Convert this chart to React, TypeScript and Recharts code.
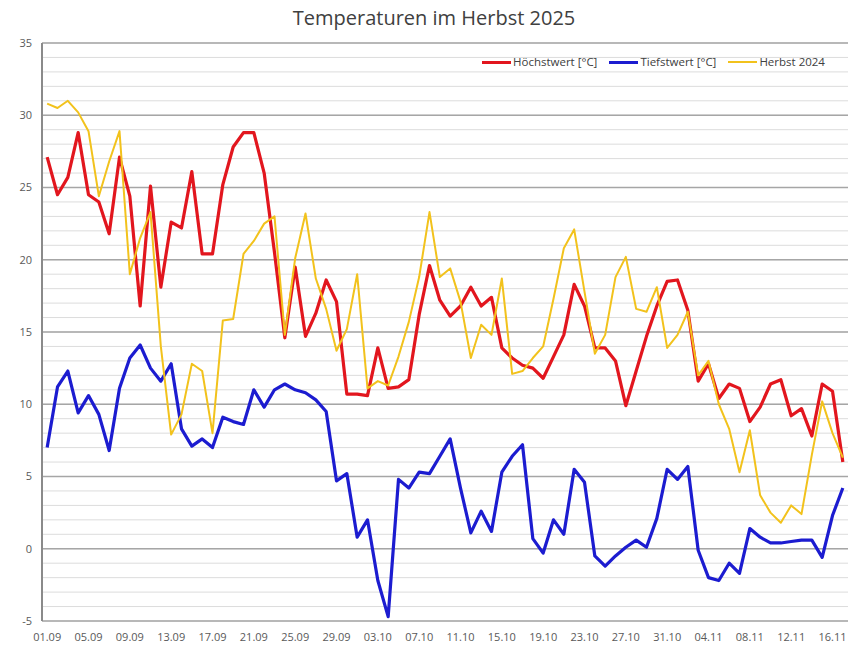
import React from 'react';
import { LineChart, Line, XAxis, YAxis, CartesianGrid, ReferenceLine } from 'recharts';

const days = [
  '01.09', '02.09', '03.09', '04.09', '05.09', '06.09', '07.09', '08.09', '09.09', '10.09',
  '11.09', '12.09', '13.09', '14.09', '15.09', '16.09', '17.09', '18.09', '19.09', '20.09',
  '21.09', '22.09', '23.09', '24.09', '25.09', '26.09', '27.09', '28.09', '29.09', '30.09',
  '01.10', '02.10', '03.10', '04.10', '05.10', '06.10', '07.10', '08.10', '09.10', '10.10',
  '11.10', '12.10', '13.10', '14.10', '15.10', '16.10', '17.10', '18.10', '19.10', '20.10',
  '21.10', '22.10', '23.10', '24.10', '25.10', '26.10', '27.10', '28.10', '29.10', '30.10',
  '31.10', '01.11', '02.11', '03.11', '04.11', '05.11', '06.11', '07.11', '08.11', '09.11',
  '10.11', '11.11', '12.11', '13.11', '14.11', '15.11', '16.11', '17.11',
];

const tickLabels = [
  '01.09', '05.09', '09.09', '13.09', '17.09', '21.09', '25.09', '29.09', '03.10', '07.10',
  '11.10', '15.10', '19.10', '23.10', '27.10', '31.10', '04.11', '08.11', '12.11', '16.11',
];

const hoechstwert = [
  27.1, 24.5, 25.7, 28.8, 24.5, 24.0, 21.8, 27.1, 24.4, 16.8,
  25.1, 18.1, 22.6, 22.2, 26.1, 20.4, 20.4, 25.2, 27.8, 28.8,
  28.8, 26.0, 20.5, 14.6, 19.5, 14.7, 16.3, 18.6, 17.1, 10.7,
  10.7, 10.6, 13.9, 11.1, 11.2, 11.7, 16.2, 19.6, 17.2, 16.1,
  16.8, 18.1, 16.8, 17.4, 13.9, 13.2, 12.7, 12.5, 11.8, 13.3,
  14.8, 18.3, 16.8, 13.9, 13.9, 13.0, 9.9, 12.3, 14.7, 16.8,
  18.5, 18.6, 16.5, 11.6, 12.8, 10.4, 11.4, 11.1, 8.8, 9.8,
  11.4, 11.7, 9.2, 9.7, 7.8, 11.4, 10.9, 6.0,
];

const tiefstwert = [
  7.0, 11.2, 12.3, 9.4, 10.6, 9.3, 6.8, 11.1, 13.2, 14.1,
  12.5, 11.6, 12.8, 8.3, 7.1, 7.6, 7.0, 9.1, 8.8, 8.6,
  11.0, 9.8, 11.0, 11.4, 11.0, 10.8, 10.3, 9.5, 4.7, 5.2,
  0.8, 2.0, -2.2, -4.7, 4.8, 4.2, 5.3, 5.2, 6.4, 7.6,
  4.2, 1.1, 2.6, 1.2, 5.3, 6.4, 7.2, 0.7, -0.3, 2.0,
  1.0, 5.5, 4.6, -0.5, -1.2, -0.5, 0.1, 0.6, 0.1, 2.1,
  5.5, 4.8, 5.7, -0.1, -2.0, -2.2, -1.0, -1.7, 1.4, 0.8,
  0.4, 0.4, 0.5, 0.6, 0.6, -0.6, 2.3, 4.2,
];

const herbst2024 = [
  30.8, 30.5, 31.0, 30.2, 28.9, 24.4, 26.8, 28.9, 19.0, 21.5,
  23.3, 14.0, 7.9, 9.3, 12.8, 12.3, 8.0, 15.8, 15.9, 20.4,
  21.3, 22.5, 23.0, 14.8, 20.1, 23.2, 18.7, 16.6, 13.7, 15.2,
  19.0, 11.1, 11.6, 11.3, 13.3, 15.7, 18.8, 23.3, 18.8, 19.4,
  17.1, 13.2, 15.5, 14.8, 18.7, 12.1, 12.3, 13.2, 14.0, 17.3,
  20.8, 22.1, 17.8, 13.5, 14.8, 18.8, 20.2, 16.6, 16.4, 18.1,
  13.9, 14.8, 16.4, 12.0, 13.0, 10.0, 8.3, 5.3, 8.2, 3.7,
  2.5, 1.8, 3.0, 2.4, 6.5, 10.2, 8.0, 6.3,
];

const yTicks = [
  -5, -4, -3, -2, -1, 0, 1, 2, 3, 4, 5, 6, 7, 8, 9, 10, 11, 12, 13, 14, 15,
  16, 17, 18, 19, 20, 21, 22, 23, 24, 25, 26, 27, 28, 29, 30, 31, 32, 33, 34, 35,
];
const yMajor = [-5, 0, 5, 10, 15, 20, 25, 30, 35];

const series = [
  { key: 'hoch', name: 'Höchstwert [°C]', color: '#e2161e', width: 3.2 },
  { key: 'tief', name: 'Tiefstwert [°C]', color: '#1c1cd0', width: 3.2 },
  { key: 'herbst', name: 'Herbst 2024', color: '#f2c21c', width: 2 },
];

const FONT = '"Open Sans", "Noto Sans", sans-serif';

export default function App() {
  const data = days.map((d, i) => ({
    i,
    day: d,
    hoch: hoechstwert[i],
    tief: tiefstwert[i],
    herbst: herbst2024[i],
  }));
  const tickIdx = tickLabels.map((l) => days.indexOf(l));
  const markTicks = tickIdx.map((t) => t - 0.5);
  const last = days.length - 0.5;

  return (
    <div
      style={{
        position: 'absolute',
        left: 0,
        top: 0,
        width: 851,
        height: 646,
        background: '#ffffff',
        fontFamily: FONT,
      }}
    >
      <div
        style={{
          position: 'absolute',
          left: 434,
          top: 4,
          transform: 'translateX(-50%)',
          whiteSpace: 'nowrap',
          fontSize: 20,
          lineHeight: '28px',
          color: '#404040',
        }}
      >
        Temperaturen im Herbst 2025
      </div>
      <LineChart
        width={851}
        height={646}
        data={data}
        margin={{ top: 43, right: 3, bottom: 3, left: 12 }}
        style={{ fontFamily: FONT }}
      >
        <CartesianGrid horizontal vertical={false} stroke="#dcdcdc" strokeWidth={1} />
        {yMajor.map((v) => (
          <ReferenceLine key={v} y={v} stroke="#a6a6a6" strokeWidth={1.5} />
        ))}
        <XAxis
          xAxisId="marks"
          type="number"
          domain={[-0.5, last]}
          ticks={markTicks}
          interval={0}
          tick={false}
          tickSize={5}
          height={0}
          axisLine={{ stroke: '#8a8a8a', strokeWidth: 2 }}
          tickLine={{ stroke: '#8a8a8a', strokeWidth: 1 }}
          allowDataOverflow
        />
        <XAxis
          dataKey="i"
          type="number"
          domain={[-0.5, last]}
          ticks={tickIdx}
          interval={0}
          tickFormatter={(v: number) => days[v]}
          axisLine={false}
          tickLine={false}
          tickSize={6}
          tickMargin={6}
          height={22}
          tick={{ fontSize: 11, fill: '#595959' }}
          allowDataOverflow
        />
        <YAxis
          type="number"
          domain={[-5, 35]}
          ticks={yTicks}
          interval={0}
          tickFormatter={(v: number) => (v % 5 === 0 ? String(v) : '')}
          width={30}
          axisLine={{ stroke: '#8a8a8a', strokeWidth: 2 }}
          tickLine={false}
          tickSize={6}
          tickMargin={4}
          tick={{ fontSize: 11, fill: '#595959' }}
          allowDataOverflow
        />
        <YAxis
          yAxisId="right"
          orientation="right"
          type="number"
          width={0}
          domain={[-5, 35]}
          ticks={[]}
          tick={false}
          tickLine={false}
          axisLine={{ stroke: '#a6a6a6', strokeWidth: 1.5 }}
        />
        {series.map((s) => (
          <Line
            key={s.key}
            type="linear"
            dataKey={s.key}
            name={s.name}
            stroke={s.color}
            strokeWidth={s.width}
            strokeLinejoin="round"
            dot={false}
            activeDot={false}
            isAnimationActive={false}
          />
        ))}
      </LineChart>
      <div
        style={{
          position: 'absolute',
          left: 482,
          top: 54,
          display: 'flex',
          alignItems: 'center',
          fontSize: 11.5,
          lineHeight: '16px',
          color: '#404040',
          whiteSpace: 'nowrap',
        }}
      >
        {series.map((s) => (
          <div key={s.key} style={{ display: 'flex', alignItems: 'center', marginRight: 12 }}>
            <span
              style={{
                display: 'inline-block',
                width: 29,
                height: 0,
                borderTop: `${s.width}px solid ${s.color}`,
                marginRight: 2,
              }}
            />
            <span>{s.name}</span>
          </div>
        ))}
      </div>
    </div>
  );
}
